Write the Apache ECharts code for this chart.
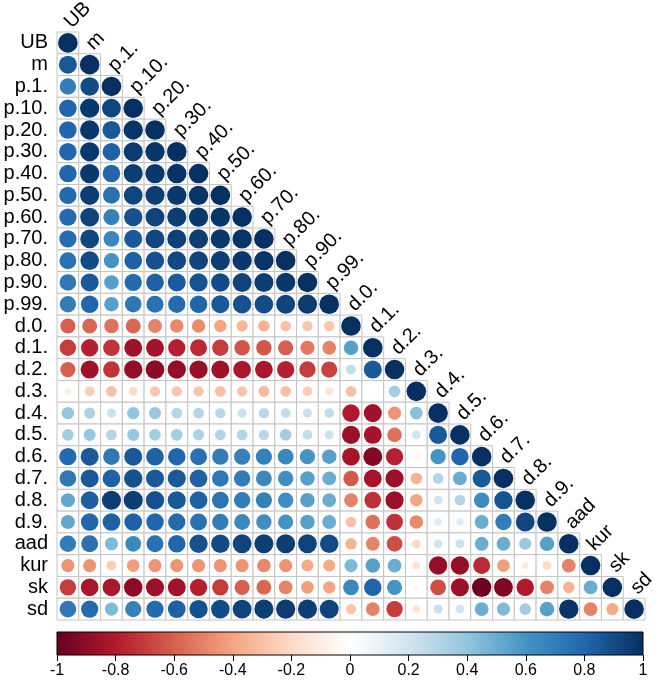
<!DOCTYPE html>
<html><head><meta charset="utf-8">
<script src="https://cdn.jsdelivr.net/npm/echarts@6/dist/echarts.min.js"></script>
<style>html,body{margin:0;padding:0;background:#fff}#c{width:658px;height:687px}</style>
</head><body><div id="c"></div>
<script>
const labels = ["UB","m","p.1.","p.10.","p.20.","p.30.","p.40.","p.50.","p.60.","p.70.","p.80.","p.90.","p.99.","d.0.","d.1.","d.2.","d.3.","d.4.","d.5.","d.6.","d.7.","d.8.","d.9.","aad","kur","sk","sd"];
// lower-triangle correlations, row by row (columns 0..i-1)
const r_m    = [0.85];
const r_p1   = [0.70, 0.90];
const r_p10  = [0.80, 0.97, 0.92];
const r_p20  = [0.80, 0.97, 0.85, 0.98];
const r_p30  = [0.80, 0.97, 0.82, 0.96, 0.98];
const r_p40  = [0.80, 0.97, 0.80, 0.95, 0.97, 0.99];
const r_p50  = [0.78, 0.95, 0.75, 0.92, 0.95, 0.97, 0.98];
const r_p60  = [0.78, 0.93, 0.68, 0.88, 0.93, 0.95, 0.97, 0.98];
const r_p70  = [0.77, 0.92, 0.65, 0.85, 0.92, 0.94, 0.95, 0.97, 0.98];
const r_p80  = [0.75, 0.90, 0.60, 0.82, 0.88, 0.91, 0.93, 0.95, 0.97, 0.98];
const r_p90  = [0.72, 0.85, 0.55, 0.78, 0.82, 0.84, 0.87, 0.90, 0.93, 0.95, 0.97];
const r_p99  = [0.70, 0.80, 0.55, 0.72, 0.75, 0.78, 0.80, 0.85, 0.88, 0.90, 0.93, 0.96];
const r_d0   = [-0.60, -0.58, -0.55, -0.58, -0.50, -0.48, -0.47, -0.40, -0.33, -0.35, -0.30, -0.28, -0.28];
const r_d1   = [-0.70, -0.78, -0.72, -0.85, -0.84, -0.78, -0.75, -0.70, -0.63, -0.62, -0.60, -0.53, -0.50, 0.55];
const r_d2   = [-0.60, -0.85, -0.72, -0.88, -0.91, -0.88, -0.87, -0.85, -0.82, -0.82, -0.78, -0.70, -0.68, 0.25, 0.85];
const r_d3   = [-0.10, -0.25, -0.30, -0.20, -0.28, -0.28, -0.28, -0.30, -0.28, -0.32, -0.30, -0.25, -0.15, -0.30, 0.00, 0.35];
const r_d4   = [0.40, 0.32, 0.22, 0.40, 0.38, 0.30, 0.30, 0.28, 0.22, 0.28, 0.25, 0.22, 0.25, -0.80, -0.85, -0.45, 0.42];
const r_d5   = [0.35, 0.38, 0.30, 0.38, 0.35, 0.35, 0.32, 0.30, 0.30, 0.28, 0.35, 0.25, 0.22, -0.86, -0.84, -0.55, 0.20, 0.85];
const r_d6   = [0.78, 0.85, 0.72, 0.85, 0.82, 0.80, 0.75, 0.70, 0.68, 0.68, 0.65, 0.60, 0.55, -0.83, -0.93, -0.78, -0.05, 0.60, 0.80];
const r_d7   = [0.72, 0.85, 0.82, 0.88, 0.85, 0.85, 0.82, 0.72, 0.70, 0.65, 0.62, 0.55, 0.50, -0.62, -0.83, -0.86, -0.35, 0.30, 0.50, 0.85];
const r_d8   = [0.52, 0.83, 0.95, 0.95, 0.88, 0.85, 0.82, 0.74, 0.70, 0.68, 0.62, 0.55, 0.50, -0.50, -0.73, -0.86, -0.40, 0.20, 0.30, 0.63, 0.87];
const r_d9   = [0.52, 0.80, 0.82, 0.82, 0.80, 0.78, 0.75, 0.70, 0.65, 0.62, 0.60, 0.55, 0.50, -0.30, -0.55, -0.73, -0.48, 0.15, 0.15, 0.50, 0.70, 0.92];
const r_aad  = [0.70, 0.75, 0.45, 0.65, 0.75, 0.80, 0.88, 0.90, 0.93, 0.95, 0.95, 0.93, 0.90, -0.35, -0.50, -0.65, -0.20, 0.20, 0.22, 0.50, 0.50, 0.38, 0.55];
const r_kur  = [-0.45, -0.45, -0.25, -0.42, -0.45, -0.45, -0.45, -0.45, -0.45, -0.48, -0.45, -0.38, -0.38, 0.45, 0.55, 0.50, -0.15, -0.88, -0.88, -0.75, -0.42, -0.12, -0.20, -0.50];
const r_sk   = [-0.70, -0.82, -0.82, -0.90, -0.86, -0.84, -0.78, -0.70, -0.60, -0.58, -0.50, -0.42, -0.40, 0.65, 0.80, 0.60, 0.05, -0.65, -0.86, -0.98, -0.93, -0.80, -0.50, -0.35, 0.50];
const r_sd   = [0.72, 0.78, 0.45, 0.68, 0.78, 0.82, 0.88, 0.90, 0.93, 0.95, 0.96, 0.95, 0.93, -0.28, -0.50, -0.70, -0.15, 0.22, 0.20, 0.50, 0.45, 0.35, 0.55, 0.98, -0.50, -0.38];
const colorbarTicks = [-1, -0.8, -0.6, -0.4, -0.2, 0, 0.2, 0.4, 0.6, 0.8, 1];
const palette = ["#67001F","#B2182B","#D6604D","#F4A582","#FDDBC7","#FFFFFF","#D1E5F0","#92C5DE","#4393C3","#2166AC","#053061"];

const rows = [[], r_m, r_p1, r_p10, r_p20, r_p30, r_p40, r_p50, r_p60, r_p70, r_p80, r_p90, r_p99,
  r_d0, r_d1, r_d2, r_d3, r_d4, r_d5, r_d6, r_d7, r_d8, r_d9, r_aad, r_kur, r_sk, r_sd];
const cells = [];
rows.forEach((row, i) => {
  row.forEach((v, j) => cells.push([j, i, v]));
  cells.push([i, i, 1]);
});

const FONT = 'Liberation Sans';
const chart = echarts.init(document.getElementById('c'), null, {renderer: 'canvas'});
chart.setOption({
  animation: false,
  grid: [
    {left: 57, top: 32, width: 588, height: 588},
    {left: 57, top: 632, width: 586, height: 23}
  ],
  xAxis: [
    {gridIndex: 0, type: 'category', data: labels, show: false},
    {gridIndex: 1, type: 'value', min: -1, max: 1, interval: 0.2,
     axisLine: {show: false}, splitLine: {show: false},
     axisTick: {show: true, length: 6, lineStyle: {color: '#000'}},
     axisLabel: {color: '#000', fontFamily: FONT, fontSize: 16, margin: 8,
       formatter: v => String(Math.round(v * 10) / 10)}}
  ],
  yAxis: [
    {gridIndex: 0, type: 'category', data: labels, inverse: true,
     axisLine: {show: false}, axisTick: {show: false}, splitLine: {show: false},
     axisLabel: {color: '#000', fontFamily: FONT, fontSize: 20, margin: 9, interval: 0}},
    {gridIndex: 1, type: 'value', min: 0, max: 1, show: false}
  ],
  visualMap: {type: 'continuous', show: false, min: -1, max: 1, dimension: 2, seriesIndex: 0,
    inRange: {color: palette}},
  series: [
    {type: 'custom', xAxisIndex: 0, yAxisIndex: 0, data: cells,
     renderItem: (params, api) => {
       const c = api.coord([api.value(0), api.value(1)]);
       const s = api.size([1, 1]);
       const v = api.value(2);
       const r = 0.45 * Math.sqrt(Math.abs(v)) * s[0];
       return {type: 'group', children: [
         {type: 'rect', shape: {x: c[0] - s[0] / 2, y: c[1] - s[1] / 2, width: s[0], height: s[1]},
          style: {fill: '#fff', stroke: '#c4c4c4', lineWidth: 1}},
         {type: 'circle', shape: {cx: c[0], cy: c[1], r: r},
          style: {fill: api.visual('color')}}
       ]};
     }},
    {type: 'custom', xAxisIndex: 0, yAxisIndex: 0, clip: false, silent: true,
     data: labels.map((l, j) => [j, j]),
     renderItem: (params, api) => {
       const c = api.coord([api.value(0), api.value(1)]);
       const s = api.size([1, 1]);
       return {type: 'text', x: c[0], y: c[1] - s[1] / 2 - 7, rotation: Math.PI / 4,
         style: {text: labels[params.dataIndex], fill: '#000', fontFamily: FONT, fontSize: 20,
                 align: 'left', verticalAlign: 'middle'}};
     }},
    {type: 'custom', xAxisIndex: 1, yAxisIndex: 1, clip: false, silent: true,
     data: [[colorbarTicks[0], colorbarTicks[colorbarTicks.length - 1]]],
     renderItem: (params, api) => {
       const a = api.coord([api.value(0), 1]);
       const b = api.coord([api.value(1), 0]);
       return {type: 'rect', shape: {x: a[0], y: a[1], width: b[0] - a[0], height: b[1] - a[1]},
         style: {stroke: '#000', lineWidth: 1,
           fill: new echarts.graphic.LinearGradient(0, 0, 1, 0,
             palette.map((col, k) => ({offset: k / (palette.length - 1), color: col})))}};
     }}
  ]
});
</script></body></html>
